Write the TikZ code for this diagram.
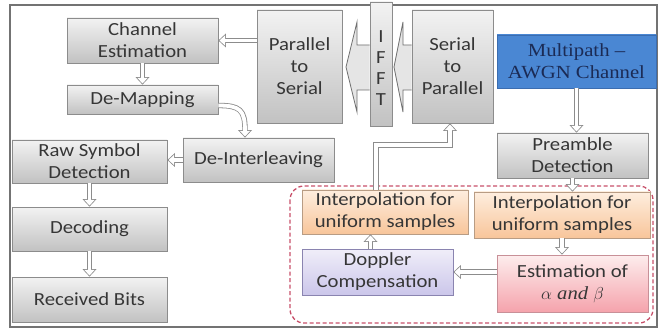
\documentclass[tikz,border=0pt]{standalone}
\usepackage{fontspec}
\setmainfont{Carlito}[FakeStretch=1.12]
\newfontfamily\timesfont{Liberation Serif}[FakeStretch=1.12]
\usepackage{tikz}
\usetikzlibrary{arrows.meta}

\definecolor{txtgray}{HTML}{363636}
\definecolor{edgegray}{HTML}{8C8C8C}
\definecolor{chblue}{HTML}{4A87D3}
\definecolor{chedge}{HTML}{3B6DB0}
\definecolor{chtext}{HTML}{1B2B55}
\definecolor{dashred}{HTML}{C8506A}
\definecolor{ortop}{HTML}{FEEEDF}
\definecolor{orbot}{HTML}{F8C59A}
\definecolor{oredge}{HTML}{B89C84}
\definecolor{vitop}{HTML}{F0EEF9}
\definecolor{vibot}{HTML}{CBC6EA}
\definecolor{viedge}{HTML}{8A84B0}
\definecolor{pktop}{HTML}{FDEDED}
\definecolor{pkbot}{HTML}{F5A3AC}
\definecolor{pkedge}{HTML}{C89098}

\tikzset{
	sz/.style 2 args={minimum width=#1pt, minimum height=#2pt},
	gbox/.style={draw=edgegray, line width=0.8pt, top color=black!5, bottom color=black!24,
		align=center, inner sep=0pt, text=txtgray},
	obox/.style={gbox, draw=oredge, top color=ortop, bottom color=orbot},
	vbox/.style={gbox, draw=viedge, top color=vitop, bottom color=vibot},
	pbox/.style={gbox, draw=pkedge, top color=pktop, bottom color=pkbot},
	hol/.style={draw=edgegray, line width=5.4pt, line join=miter,
		-{Triangle[length=7.5pt, width=14pt, line width=0pt]},
		postaction={draw=white, line width=3.8pt, line join=miter, shorten >=1.17pt,
			-{Triangle[length=5.5pt, width=10.3pt, line width=0pt]}}},
	bigarr/.style={draw=edgegray!80!black, line width=0.8pt, fill=black!10, line join=miter}
}

\begin{document}
\begin{tikzpicture}[x=1pt, y=-1pt, font=\fontsize{18.5}{22}\selectfont]
	\useasboundingbox (0,0) rectangle (658,331);
	\fill[white] (0,0) rectangle (658,331);
	% outer frame and dashed group
	\draw[black!55, line width=1.2pt] (10,5) rectangle (657,327);
	\draw[black!55, line width=2.5pt] (10,327) -- (657,327);
	\draw[dashred, line width=1.3pt, dash pattern=on 4pt off 2.5pt, rounded corners=14pt] (290,186) rectangle (653,323);

	\node[gbox, sz={151}{45}] (CE) at (142.5, 40.5) {Channel\\Estimation};
	\node[gbox, sz={151}{29}] (DM) at (142.5, 99.5) {De-Mapping};
	\node[gbox, sz={85}{113}] (PS) at (299.5, 66.5) {Parallel\\to\\Serial};
	\node[gbox, sz={22}{124}, font=\fontsize{18.5}{21}\selectfont, text height=84pt, text depth=0pt] (IF) at (381, 64) {I\\F\\F\\T};
	\node[gbox, sz={81}{113}] (SP) at (452.5, 66.5) {Serial\\to\\Parallel};
	\node[gbox, sz={159}{53}, draw=chedge, top color=chblue, bottom color=chblue,
		text=chtext, font=\timesfont\fontsize{18.5}{22}\selectfont] (CH) at (576.5, 61.5) {Multipath –\\AWGN Channel};
	\node[gbox, sz={151}{45}] (PD) at (572.5, 155.5) {Preamble\\Detection};
	\node[gbox, sz={155}{43}] (RS) at (89.5, 161.5) {Raw Symbol\\Detection};
	\node[gbox, sz={151}{44}] (DI) at (258.5, 160) {De-Interleaving};
	\node[gbox, sz={155}{44}] (DE) at (89.5, 229) {Decoding};
	\node[gbox, sz={155}{45}] (RB) at (89.5, 299.5) {Received Bits};
	\node[obox, sz={166}{44}] (IL) at (385, 212) {Interpolation for\\uniform samples};
	\node[obox, sz={176}{46}] (IR) at (562, 215) {Interpolation for\\uniform samples};
	\node[vbox, sz={151}{46}] (DC) at (377.5, 272) {Doppler\\Compensation};
	\node[pbox, sz={151}{57}] (ES) at (572.5, 283.5) {Estimation of\\{\timesfont\itshape $\alpha$ and $\beta$}};

	% IFFT block arrows
	\draw[bigarr] (IF.west |- 0,45) -- (357,45) -- (357,22) -- (346,67) -- (357,112) -- (357,90) -- (IF.west |- 0,90);
	\draw[bigarr] (SP.west |- 0,45) -- (403,45) -- (403,22) -- (394,67) -- (403,112) -- (403,90) -- (SP.west |- 0,90);

	\coordinate (K1) at (376,145);
	\coordinate (K2) at (450,145);
	\draw[hol] (PS.west |- CE.east) -- (CE.east);
	\draw[hol] (CE.south) -- (DM.north);
	\draw[hol] ([yshift=-6pt]DM.east) .. controls (240,105.5) and (245,110) .. (DI.north -| 245,0);
	\draw[hol] (DI.west) -- (DI.west -| RS.east);
	\draw[hol] (RS.south) -- (DE.north);
	\draw[hol] (DE.south) -- (RB.north);
	\draw[hol] (IL.north -| K1) -- (K1) -- (K2) -- (SP.south -| K2);
	\draw[hol] (CH.south) -- (CH.south |- PD.north);
	\draw[hol] (PD.south) -- (PD.south |- IR.north);
	\draw[hol] (IR.south) -- (IR.south |- ES.north);
	\draw[hol] (ES.west |- DC.east) -- (DC.east);
	\draw[hol] ([xshift=-7pt]DC.north) -- ([xshift=-7pt]DC.north |- IL.south);
\end{tikzpicture}
\end{document}
